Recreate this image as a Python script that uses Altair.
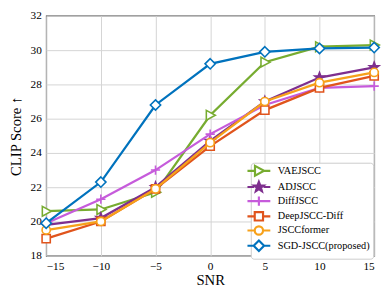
import math
import altair as alt
import pandas as pd

snr = [-15, -10, -5, 0, 5, 10, 15]
methods = ["VAEJSCC", "ADJSCC", "DiffJSCC", "DeepJSCC-Diff", "JSCCformer", "SGD-JSCC(proposed)"]
vaejscc = [20.6, 20.7, 21.7, 26.2, 29.3, 30.2, 30.3]
adjscc = [19.8, 20.2, 22.0, 24.7, 27.0, 28.4, 29.0]
diffjscc = [19.9, 21.3, 23.0, 25.1, 26.8, 27.8, 27.9]
deepjscc_diff = [19.0, 20.0, 21.9, 24.4, 26.5, 27.8, 28.5]
jsccformer = [19.5, 20.0, 21.9, 24.6, 27.0, 28.1, 28.7]
sgd_jscc = [19.9, 22.3, 26.8, 29.2, 29.9, 30.1, 30.15]
series = [vaejscc, adjscc, diffjscc, deepjscc_diff, jsccformer, sgd_jscc]

colors = ["#77AC30", "#7E2F8E", "#C65BDB", "#E0541C", "#F7A11A", "#0072BD"]
fills = ["white", "#7E2F8E", "#C65BDB", "white", "white", "white"]
FONT = "Liberation Serif"

def star_path(r_out=1.0, r_in=0.42, k=1.0):
    pts = []
    for j in range(10):
        r = (r_out if j % 2 == 0 else r_in) * k
        a = -math.pi / 2 + j * math.pi / 5
        pts.append(f"{r*math.cos(a):.3f},{r*math.sin(a):.3f}")
    return "M" + "L".join(pts) + "Z"

def marker_paths(k):
    return [
        f"M{-0.75*k},{-0.95*k}L{k},0L{-0.75*k},{0.95*k}Z",
        star_path(k=k),
        f"M{-0.9*k},0L{0.9*k},0M0,{-0.9*k}L0,{0.9*k}",
        f"M{-0.8*k},{-0.8*k}L{0.8*k},{-0.8*k}L{0.8*k},{0.8*k}L{-0.8*k},{0.8*k}Z",
        f"M{-0.8*k},0A{0.8*k},{0.8*k} 0 1,0 {0.8*k},0A{0.8*k},{0.8*k} 0 1,0 {-0.8*k},0Z",
        f"M0,{-k}L{k},0L0,{k}L{-k},0Z",
    ]

markers = marker_paths(1.0)
LK = 1.5
half_gap = [0.75, 0.9, 0.9, 0.8, 0.8, 1.0]
legend_paths = [
    f"M{-2.2*LK},0L{-g*LK},0M{g*LK},0L{2.2*LK},0" + m
    for m, g in zip(marker_paths(LK), half_gap)
]

rows = []
for name, vals in zip(methods, series):
    for s, v in zip(snr, vals):
        rows.append({"SNR": s, "method": name, "score": v})
df = pd.DataFrame(rows)

xenc = alt.X("SNR:Q", scale=alt.Scale(domain=[-15, 15], nice=False),
             axis=alt.Axis(values=snr, title="SNR", format="d"))
yenc = alt.Y("score:Q", scale=alt.Scale(domain=[18, 32], nice=False),
             axis=alt.Axis(values=list(range(18, 33, 2)), title="CLIP Score ↑"))

base = alt.Chart(df)
layers = []
for i, name in enumerate(methods):
    sub = base.transform_filter(alt.datum.method == name)
    layers.append(
        sub.mark_line(strokeWidth=2.3, color=colors[i]).encode(x=xenc, y=yenc)
    )
    layers.append(
        sub.mark_point(shape=markers[i], size=110, strokeWidth=1.6,
                       stroke=colors[i], fill=fills[i], fillOpacity=1,
                       opacity=1).encode(x=xenc, y=yenc)
    )

leg = alt.Legend(
    title=None, orient="none", legendX=209, legendY=150,
    symbolSize=50, symbolStrokeWidth=2.2, symbolOpacity=1,
    labelFont=FONT, labelFontSize=10.5, labelColor="black",
    labelOffset=14, symbolOffset=0, rowPadding=-3.5, padding=3,
    fillColor="white", strokeColor="#cccccc", cornerRadius=3,
)
legend_layer = base.mark_point(opacity=0, size=50).encode(
    x=xenc, y=yenc,
    stroke=alt.Stroke("method:N", scale=alt.Scale(domain=methods, range=colors), legend=leg),
    fill=alt.Fill("method:N", scale=alt.Scale(domain=methods, range=fills), legend=leg),
    shape=alt.Shape("method:N", scale=alt.Scale(domain=methods, range=legend_paths), legend=leg),
)
layers.append(legend_layer)

chart = alt.layer(*layers).properties(
    width=335, height=245,
    autosize=alt.AutoSizeParams(type="none"),
    padding={"left": 39, "top": 5, "right": 8, "bottom": 35},
).configure(
    font=FONT
).configure_legend(
    labelFont=FONT
).configure_view(
    stroke="#333333", strokeWidth=1.2
).configure_axis(
    labelFont=FONT, titleFont=FONT,
    labelFontSize=11.5, titleFontSize=15, titleFontWeight="normal",
    labelColor="black", titleColor="black",
    grid=True, gridColor="#d4d4d4", gridWidth=1,
    domain=False, ticks=False, labelPadding=5,
).configure_axisY(titlePadding=7).configure_axisX(titlePadding=1)

chart.save("out.html", embed_options={"renderer": "svg", "actions": False})
